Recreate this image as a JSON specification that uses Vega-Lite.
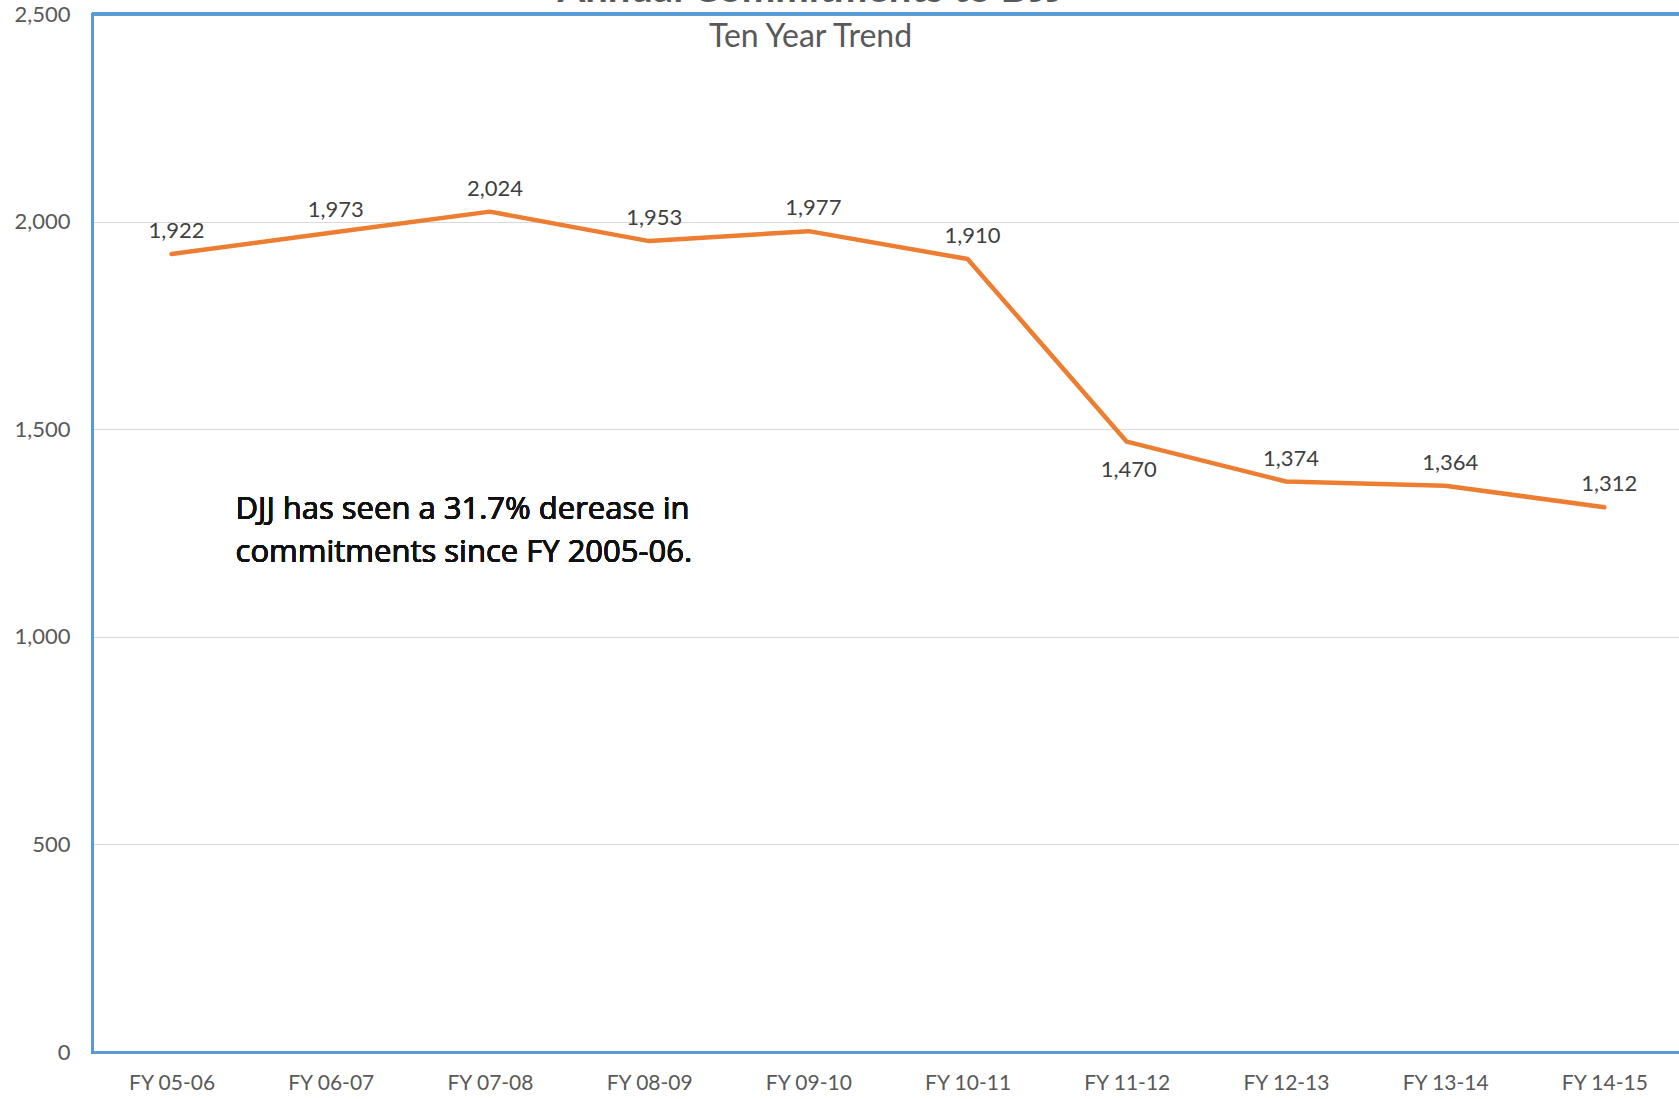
{
  "$schema": "https://vega.github.io/schema/vega-lite/v6.json",
  "width": 1587,
  "height": 1038,
  "autosize": {"type": "none"},
  "padding": {"left": 92, "top": 14, "right": 0, "bottom": 47},
  "background": "white",
  "config": {"view": {"stroke": null}, "font": "Lato"},
  "title": {
    "text": "Annual Commitments to DJJ",
    "subtitle": "Ten Year Trend",
    "anchor": "middle",
    "frame": "group",
    "dx": -75,
    "offset": -50,
    "font": "Lato",
    "fontSize": 40,
    "fontWeight": "bold",
    "color": "#595959",
    "subtitleFont": "Lato",
    "subtitleFontSize": 32,
    "subtitleColor": "#595959",
    "subtitlePadding": 12
  },
  "data": {
    "values": [
      {"fy": "FY 05-06", "commitments": 1922},
      {"fy": "FY 06-07", "commitments": 1973},
      {"fy": "FY 07-08", "commitments": 2024},
      {"fy": "FY 08-09", "commitments": 1953},
      {"fy": "FY 09-10", "commitments": 1977},
      {"fy": "FY 10-11", "commitments": 1910},
      {"fy": "FY 11-12", "commitments": 1470},
      {"fy": "FY 12-13", "commitments": 1374},
      {"fy": "FY 13-14", "commitments": 1364},
      {"fy": "FY 14-15", "commitments": 1312}
    ]
  },
  "encoding": {
    "x": {
      "field": "fy",
      "type": "ordinal",
      "sort": null,
      "scale": {"type": "point", "padding": 0.4843, "align": 0.516},
      "axis": {
        "title": null,
        "labelAngle": 0,
        "labelFont": "Lato",
        "labelFontSize": 21,
        "labelColor": "#595959",
        "labelPadding": 20,
        "ticks": false,
        "grid": false,
        "domainColor": "#5B9BD5",
        "domainWidth": 3,
        "domainCap": "square"
      }
    },
    "y": {
      "field": "commitments",
      "type": "quantitative",
      "scale": {"domain": [0, 2500], "nice": false, "zero": true},
      "axis": {
        "title": null,
        "values": [0, 500, 1000, 1500, 2000, 2500],
        "format": ",d",
        "labelFont": "Lato",
        "labelFontSize": 22,
        "labelColor": "#595959",
        "labelPadding": 22,
        "ticks": false,
        "grid": true,
        "gridColor": "#D9D9D9",
        "gridWidth": 1,
        "domainColor": "#5B9BD5",
        "domainWidth": 3,
        "domainCap": "square"
      }
    }
  },
  "layer": [
    {
      "mark": {"type": "rule", "color": "#5B9BD5", "strokeWidth": 3},
      "encoding": {"y": {"datum": 2500}, "x": null}
    },
    {
      "mark": {"type": "line", "color": "#ED7D31", "strokeWidth": 4.5, "strokeCap": "round", "strokeJoin": "round"}
    },
    {
      "transform": [{"filter": "datum.fy !== 'FY 11-12'"}],
      "mark": {"type": "text", "font": "Lato", "fontSize": 22, "color": "#404040", "dx": 5, "dy": -23, "baseline": "middle"},
      "encoding": {"text": {"field": "commitments", "type": "quantitative", "format": ",d"}}
    },
    {
      "transform": [{"filter": "datum.fy === 'FY 11-12'"}],
      "mark": {"type": "text", "font": "Lato", "fontSize": 22, "color": "#404040", "dx": 2, "dy": 28, "baseline": "middle"},
      "encoding": {"text": {"field": "commitments", "type": "quantitative", "format": ",d"}}
    },
    {
      "mark": {"type": "text", "font": "Open Sans", "fontSize": 31, "fontWeight": "normal", "color": "#111111", "align": "left", "baseline": "alphabetic", "dx": 64, "dy": 7, "lineHeight": 43},
      "encoding": {
        "x": {"datum": "FY 05-06"},
        "y": {"datum": 1300},
        "text": {"value": ["DJJ has seen a 31.7% derease in", "commitments since FY 2005-06."]}
      }
    }
  ]
}
